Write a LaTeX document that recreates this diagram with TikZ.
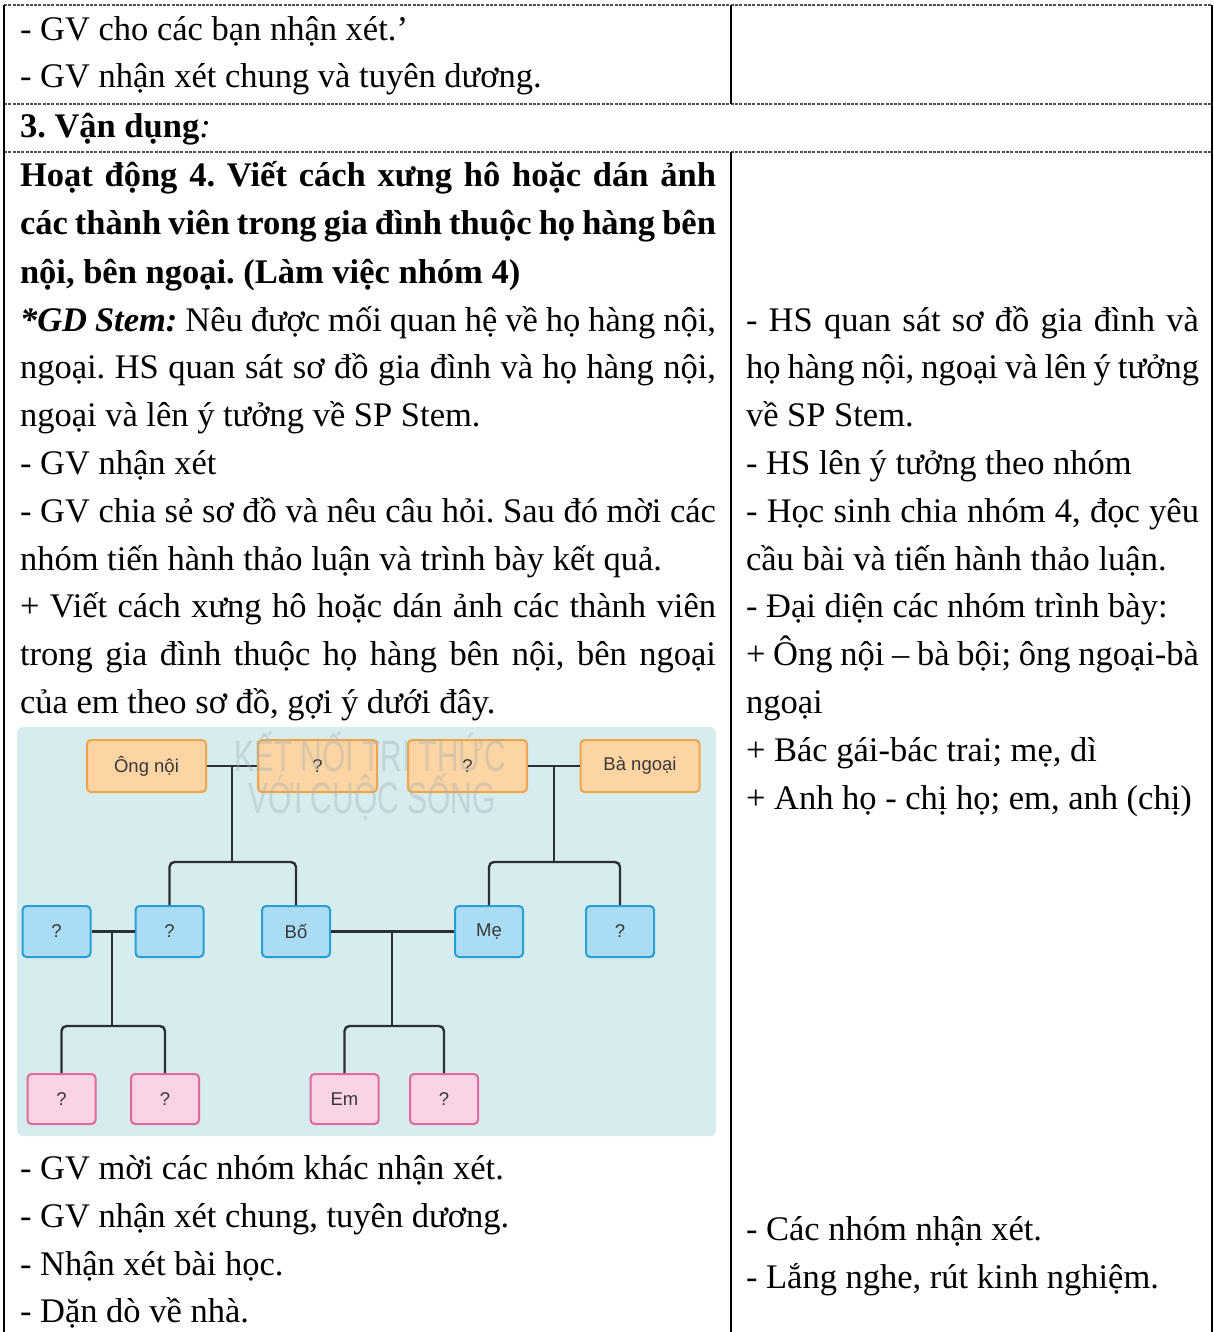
\documentclass[tikz,border=0pt]{standalone}
\usepackage{fontspec}
\setmainfont{Liberation Serif}
\setsansfont{Liberation Sans}
\definecolor{bgc}{HTML}{D6ECEF}
\definecolor{orf}{HTML}{FDD4A3}
\definecolor{ord}{HTML}{F0A54C}
\definecolor{blf}{HTML}{AADCF6}
\definecolor{bld}{HTML}{2A9FD6}
\definecolor{pkf}{HTML}{FAD3E4}
\definecolor{pkd}{HTML}{E06A9E}
\definecolor{lnc}{HTML}{2B3035}
\definecolor{rulec}{HTML}{505050}
\definecolor{wmc}{HTML}{9FB0B5}
\newcommand\JL[4]{\node[tl] (#1) at (#2,#3) {\makebox[696pt][s]{#4}};}
\newcommand\JR[4]{\node[tl] (#1) at (#2,#3) {\makebox[453pt][s]{#4}};}
\newcommand\PL[4]{\node[tl] (#1) at (#2,#3) {#4};}
\begin{document}
\frenchspacing
\begin{tikzpicture}[x=1pt,y=-1pt,
  tl/.style={anchor=base west, inner sep=0pt, outer sep=0pt, font=\fontsize{34.5}{47.8}\selectfont},
  hrule/.style={draw=rulec, line width=1.1pt, dash pattern=on 3pt off 1.3pt},
  vrule/.style={draw=black, line width=1.4pt},
  fbox/.style={draw, line width=2pt, rounded corners=4pt, inner sep=0pt, font=\sffamily\fontsize{18.5}{20}\selectfont, text=black!78},
  obox/.style={fbox, fill=orf, draw=ord, minimum width=119pt, minimum height=52pt},
  bbox/.style={fbox, fill=blf, draw=bld, minimum width=68pt, minimum height=51pt},
  pbox/.style={fbox, fill=pkf, draw=pkd, minimum width=68pt, minimum height=50pt},
  conn/.style={draw=lnc, line width=2.4pt},
  brk/.style={conn, rounded corners=5pt},
  wm/.style={text=wmc, opacity=0.38, font=\sffamily\fontsize{44}{44}\selectfont, xscale=0.68, inner sep=0pt}
]
\useasboundingbox (0,0) rectangle (1214,1332);
\fill[white] (0,0) rectangle (1214,1332);

% ---- table rules
\draw[hrule] (4,5) -- (1212,5);
\draw[hrule] (4,104) -- (1212,104);
\draw[hrule] (4,152) -- (1212,152);
\draw[vrule] (4,5) -- (4,1332);
\draw[vrule] (1212,5) -- (1212,1332);
\draw[vrule] (731,5) -- (731,104);
\draw[vrule] (731,152) -- (731,1332);

% ---- first row
\PL{a1}{20}{41}{- GV cho các bạn nhận xét.’}
\PL{a2}{20}{88}{- GV nhận xét chung và tuyên dương.}
\PL{a3}{20}{138}{\textbf{3. Vận dụng}\textit{:}}

% ---- left column
\JL{l3}{20}{187}{\bfseries Hoạt động 4. Viết cách xưng hô hoặc dán ảnh}
\JL{l4}{20}{235}{\bfseries các thành viên trong gia đình thuộc họ hàng bên}
\PL{l5}{20}{283}{\bfseries nội, bên ngoại. (Làm việc nhóm 4)}
\JL{l6}{20}{331}{\textbf{\textit{*GD Stem:}} Nêu được mối quan hệ về họ hàng nội,}
\JL{l7}{20}{378}{ngoại. HS quan sát sơ đồ gia đình và họ hàng nội,}
\PL{l8}{20}{426}{ngoại và lên ý tưởng về SP Stem.}
\PL{l9}{20}{474}{- GV nhận xét}
\JL{l10}{20}{522}{- GV chia sẻ sơ đồ và nêu câu hỏi. Sau đó mời các}
\PL{l11}{20}{570}{nhóm tiến hành thảo luận và trình bày kết quả.}
\JL{l12}{20}{617}{+ Viết cách xưng hô hoặc dán ảnh các thành viên}
\JL{l13}{20}{665}{trong gia đình thuộc họ hàng bên nội, bên ngoại}
\PL{l14}{20}{713}{của em theo sơ đồ, gợi ý dưới đây.}

\PL{l15}{20}{1179}{- GV mời các nhóm khác nhận xét.}
\PL{l16}{20}{1227}{- GV nhận xét chung, tuyên dương.}
\PL{l17}{20}{1275}{- Nhận xét bài học.}
\PL{l18}{20}{1322}{- Dặn dò về nhà.}

% ---- right column
\JR{r0}{746}{331}{- HS quan sát sơ đồ gia đình và}
\JR{r1}{746}{378}{họ hàng nội, ngoại và lên ý tưởng}
\PL{r2}{746}{426}{về SP Stem.}
\PL{r3}{746}{474}{- HS lên ý tưởng theo nhóm}
\JR{r4}{746}{522}{- Học sinh chia nhóm 4, đọc yêu}
\PL{r5}{746}{570}{cầu bài và tiến hành thảo luận.}
\PL{r6}{746}{617}{- Đại diện các nhóm trình bày:}
\JR{r7}{746}{665}{+ Ông nội – bà bội; ông ngoại-bà}
\PL{r8}{746}{713}{ngoại}
\PL{r9}{746}{761}{+ Bác gái-bác trai; mẹ, dì}
\PL{r10}{746}{809}{+ Anh họ - chị họ; em, anh (chị)}
\PL{r11}{746}{1240}{- Các nhóm nhận xét.}
\PL{r12}{746}{1288}{- Lắng nghe, rút kinh nghiệm.}

% ---- family tree
\fill[bgc, rounded corners=6pt] (17,727) rectangle (716,1136);

\node[obox] (ong) at (146.5,766) {Ông nội};
\node[obox] (ba)  at (317.5,766) {?};
\node[obox] (ong2) at (467.5,766) {?};
\node[obox] (bango) at (640,766) {Bà ngoại};

\node[bbox] (c1) at (56.5,931.5) {?};
\node[bbox] (c2) at (169.5,931.5) {?};
\node[bbox] (bo) at (296,931.5) {Bố};
\node[bbox] (me) at (489,931.5) {Mẹ};
\node[bbox] (c5) at (620,931.5) {?};

\node[pbox] (g1) at (61.5,1099) {?};
\node[pbox] (g2) at (165,1099) {?};
\node[pbox] (em) at (344.5,1099) {Em};
\node[pbox] (g4) at (444,1099) {?};

\coordinate (j1) at (232,766);
\coordinate (t1) at (232,862);
\coordinate (j2) at (554,766);
\coordinate (t2) at (554,862);
\coordinate (j3) at (112,931.5);
\coordinate (t3) at (112,1026);
\coordinate (j4) at (392,931.5);
\coordinate (t4) at (392,1026);

\draw[conn] (ong.east) -- (ba.west);
\draw[conn] (ong2.east) -- (bango.west);
\draw[conn] (c1.east) -- (c2.west);
\draw[conn] (bo.east) -- (me.west);

\draw[conn] (j1) -- (t1);
\draw[conn] (j2) -- (t2);
\draw[conn] (j3) -- (t3);
\draw[conn] (j4) -- (t4);

\draw[brk] (c2.north) |- (t1) -| (bo.north);
\draw[brk] (me.north) |- (t2) -| (c5.north);
\draw[brk] (g1.north) |- (t3) -| (g2.north);
\draw[brk] (em.north) |- (t4) -| (g4.north);

\node[wm] (wm1) at (370,752) {KẾT NỐI TRI THỨC};
\node[wm] (wm2) at (372,797) {VỚI CUỘC SỐNG};
\end{tikzpicture}
\end{document}
